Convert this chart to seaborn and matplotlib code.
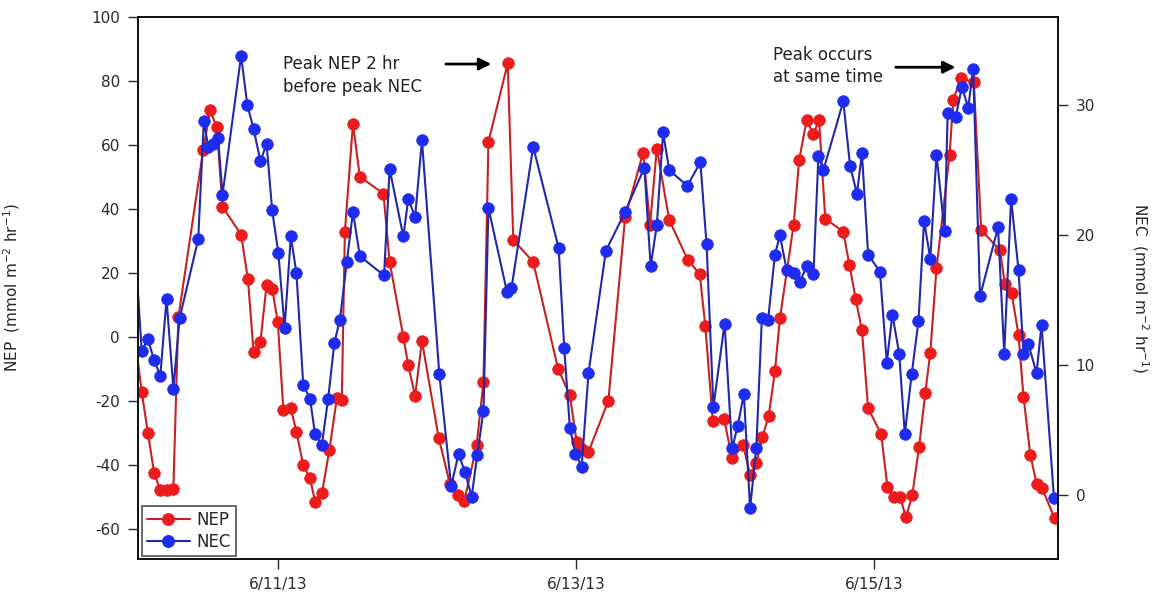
import numpy as np
import pandas as pd
import matplotlib
matplotlib.use("Agg")
import matplotlib.pyplot as plt
import seaborn as sns
from matplotlib.lines import Line2D

# ---------------- data ----------------
start = pd.Timestamp("2013-06-10 00:00")

nep_hours = [0.4, 2.1, 3.1, 4.1, 5.1, 6.1, 7.2, 8.0, 12.0, 13.1, 14.2, 15.1,
             18.1, 19.2, 20.1, 21.2, 22.2, 23.1, 24.0, 24.9, 26.1, 27.0, 28.1,
             29.2, 30.0, 31.1, 32.3, 33.5, 34.3, 34.8, 36.1, 37.2, 41.0, 42.0,
             44.2, 45.0, 46.1, 47.2, 49.9, 51.7, 53.0, 54.0, 56.0, 57.1, 57.9,
             61.0, 61.9, 65.1, 69.1, 71.0, 72.1, 73.0, 74.0, 77.2, 79.9, 82.8,
             83.9, 85.0, 87.0, 90.0, 91.9, 92.8, 94.0, 95.8, 97.1, 98.9, 100.0,
             101.0, 102.0, 103.0, 104.0, 104.8, 107.0, 107.9, 109.1, 110.2,
             111.1, 112.1, 115.0, 116.0, 117.0, 118.0, 119.0, 121.1, 122.1,
             123.1, 124.1, 125.1, 126.1, 127.2, 128.2, 129.0, 130.0, 132.1,
             132.7, 133.9, 136.0, 137.2, 140.2, 141.0, 142.1, 143.2, 144.0,
             145.1, 146.1, 147.0, 149.0]
nep_values = [9, -17.2, -30, -42.6, -48, -48, -47.5, 6, 58.3, 70.8, 65.4, 40.6,
              31.9, 17.9, -4.7, -1.6, 16.1, 15, 4.6, -23, -22.3, -29.7, -40.2,
              -44.3, -51.6, -49, -35.5, -19.3, -19.8, 32.8, 66.6, 50, 44.7, 23.4,
              0, -9, -18.5, -1.3, -31.7, -46, -49.5, -51.5, -34, -14.1, 60.9,
              85.4, 30.2, 23.4, -10, -18.3, -33, -35, -36, -20, 37.4, 57.5,
              35, 58.8, 36.4, 23.9, 19.6, 3.3, -26.3, -25.6, -38, -34, -43.3,
              -39.5, -31.3, -24.7, -10.8, 5.7, 34.8, 55.2, 67.7, 63.3,
              67.7, 36.9, 32.8, 22.3, 11.8, 2, -22.4, -30.5, -46.9,
              -50, -50, -56.5, -49.5, -34.4, -17.5, -5, 21.3, 56.7,
              74, 80.7, 79.6, 33.3, 27, 16.6, 13.5, 0.5, -18.8,
              -37, -45.9, -47.4, -56.8]

nec_hours = [0.4, 2.1, 3.1, 4.1, 5.1, 6.1, 7.2, 8.2, 11.2, 12.1, 12.8, 13.6,
             14.4, 15.1, 18.1, 19.1, 20.1, 21.2, 22.2, 23.1, 24.1, 25.1, 26.1,
             27.0, 28.1, 29.2, 30.0, 31.1, 32.1, 33.1, 34.0, 35.1, 36.1, 37.2,
             41.1, 42.0, 44.2, 45.0, 46.1, 47.2, 50.0, 51.9, 53.1, 54.1, 55.2,
             56.1, 57.1, 57.9, 60.9, 61.6, 65.1, 69.2, 70.1, 71.0, 71.9, 72.9,
             74.0, 76.8, 79.9, 83.0, 84.0, 85.0, 86.0, 87.0, 89.9, 92.0, 93.0,
             94.1, 95.9, 97.1, 98.0, 99.0, 100.0, 101.0, 101.9, 102.9, 104.0,
             104.8, 105.9, 107.0, 108.0, 109.1, 110.2, 111.0, 111.8, 115.0,
             116.1, 117.2, 118.0, 119.0, 120.9, 122.0, 122.9, 124.0, 124.9,
             126.0, 127.1, 128.0, 129.0, 130.0, 131.3, 131.8, 133.1, 134.1,
             135.1, 135.9, 137.0, 139.9, 140.9, 142.0, 143.2, 144.0, 144.8,
             146.1, 146.9, 148.9]
nec_values = [23.9, 11.1, 12, 10.4, 9.2, 15.1, 8.2, 13.6, 19.7, 28.8, 26.8, 27,
              27.5, 23.1, 33.8, 30, 28.2, 25.7, 27, 21.9, 18.6, 12.9, 19.9,
              17.1, 8.5, 7.4, 4.7, 3.9, 7.4, 11.7, 13.5, 17.9, 21.8, 18.4,
              16.9, 25.1, 19.9, 22.8, 21.4, 27.3, 9.3, 0.7, 3.2, 1.8, -0.1,
              3.1, 6.5, 22.1, 15.6, 15.9, 26.8, 19, 11.3, 5.2, 3.2, 2.2,
              9.4, 18.8, 21.8, 25.2, 17.6, 20.8, 27.9, 25, 23.8, 25.6, 19.3,
              6.8, 13.2, 3.6, 5.3, 7.8, -1, 3.6, 13.6, 13.5, 18.5,
              20, 17.3, 17.1, 16.4, 17.6, 17, 26.1, 25, 30.3,
              25.3, 23.2, 26.3, 18.5, 17.2, 10.2, 13.9, 10.9, 4.7,
              9.3, 13.4, 21.1, 18.2, 26.2, 20.3, 29.4, 29.1, 31.4,
              29.8, 32.8, 15.3, 20.6, 10.9, 22.8, 17.3, 10.9, 11.6,
              9.4, 13.1, -0.2]

x_limits = ["2013-06-10 01:31", "2013-06-16 05:30"]
x_tick_dates = ["2013-06-11", "2013-06-13", "2013-06-15"]
x_tick_labels = ["6/11/13", "6/13/13", "6/15/13"]
nep_ticks = [-60, -40, -20, 0, 20, 40, 60, 80, 100]
nec_ticks = [0, 10, 20, 30]
nep_limits = (-69.5, 100)
nec_limits = (-4.9, 36.8)

nep_df = pd.DataFrame({"time": start + pd.to_timedelta(nep_hours, unit="h"),
                       "NEP": nep_values})
nec_df = pd.DataFrame({"time": start + pd.to_timedelta(nec_hours, unit="h"),
                       "NEC": nec_values})

# ---------------- style ----------------
sns.set_style("ticks")
plt.rcParams["font.family"] = ["DejaVu Sans"]
plt.rcParams["mathtext.default"] = "regular"

red_marker, red_line = "#ec1c1c", "#c42222"
blue_marker, blue_line = "#1d2cf0", "#2127a6"
msize, lw = 8.3, 1.5

fig = plt.figure(figsize=(11.66, 5.98), dpi=100)
ax = fig.add_axes([0.1184, 0.0652, 0.7887, 0.9069])
ax2 = ax.twinx()

sns.lineplot(data=nep_df, x="time", y="NEP", ax=ax, sort=False, estimator=None,
             color=red_line, linewidth=lw, marker="o", markersize=msize,
             markerfacecolor=red_marker, markeredgecolor=red_marker,
             markeredgewidth=0.6, legend=False)
sns.lineplot(data=nec_df, x="time", y="NEC", ax=ax2, sort=False, estimator=None,
             color=blue_line, linewidth=lw, marker="o", markersize=msize,
             markerfacecolor=blue_marker, markeredgecolor=blue_marker,
             markeredgewidth=0.6, legend=False)

xl = pd.to_datetime(x_limits)
ax.set_xlim(xl[0], xl[1])
ax.set_ylim(*nep_limits)
ax2.set_ylim(*nec_limits)

ax.set_xticks(pd.to_datetime(x_tick_dates))
ax.set_xticklabels(x_tick_labels)
ax.set_yticks(nep_ticks)
ax.set_yticklabels([str(v) for v in nep_ticks])
ax2.set_yticks(nec_ticks)
ax2.set_yticklabels([str(v) for v in nec_ticks])

for a in (ax, ax2):
    a.tick_params(axis="both", direction="out", length=7, width=1.0,
                  pad=6, labelsize=11, colors="#2a2a2a")
    for s in a.spines.values():
        s.set_linewidth(1.3)
        s.set_color("#111111")
ax.set_xlabel("")
ax.set_ylabel("NEP  (mmol m$^{-2}$ hr$^{-1}$)", fontsize=11)
ax.yaxis.set_label_coords(-0.126, 0.5)
ax2.set_ylabel("NEC  (mmol m$^{-2}$ hr$^{-1}$)", fontsize=11, rotation=270,
               va="center")
ax2.yaxis.set_label_coords(1.0895, 0.5)

# annotations
def hrs(h):
    return start + pd.Timedelta(hours=h)

ax.text(hrs(24.85), 81.6, "Peak NEP 2 hr\nbefore peak NEC", fontsize=12,
        ha="left", va="center", linespacing=1.35, color="#222222")
ax.annotate("", xy=(hrs(58.8), 85.2), xytext=(hrs(50.6), 85.2),
            arrowprops=dict(arrowstyle="-|>", color="black", lw=2,
                            mutation_scale=18))
ax.text(hrs(103.7), 84.6, "Peak occurs\nat same time", fontsize=12,
        ha="left", va="center", linespacing=1.35, color="#222222")
ax.annotate("", xy=(hrs(133.5), 84.2), xytext=(hrs(123.0), 84.2),
            arrowprops=dict(arrowstyle="-|>", color="black", lw=2,
                            mutation_scale=18))

handles = [
    Line2D([], [], color=red_line, lw=lw, marker="o", markersize=msize,
           markerfacecolor=red_marker, markeredgecolor=red_marker, label="NEP"),
    Line2D([], [], color=blue_line, lw=lw, marker="o", markersize=msize,
           markerfacecolor=blue_marker, markeredgecolor=blue_marker, label="NEC"),
]
leg = ax2.legend(handles=handles, loc="lower left", bbox_to_anchor=(0.004, 0.006),
                 frameon=True, fancybox=False, edgecolor="#333333",
                 fontsize=12, handlelength=2.6, borderpad=0.3,
                 labelspacing=0.25, handletextpad=0.4, borderaxespad=0)
leg.get_frame().set_linewidth(1.3)

fig.savefig("out.png", dpi=100)
